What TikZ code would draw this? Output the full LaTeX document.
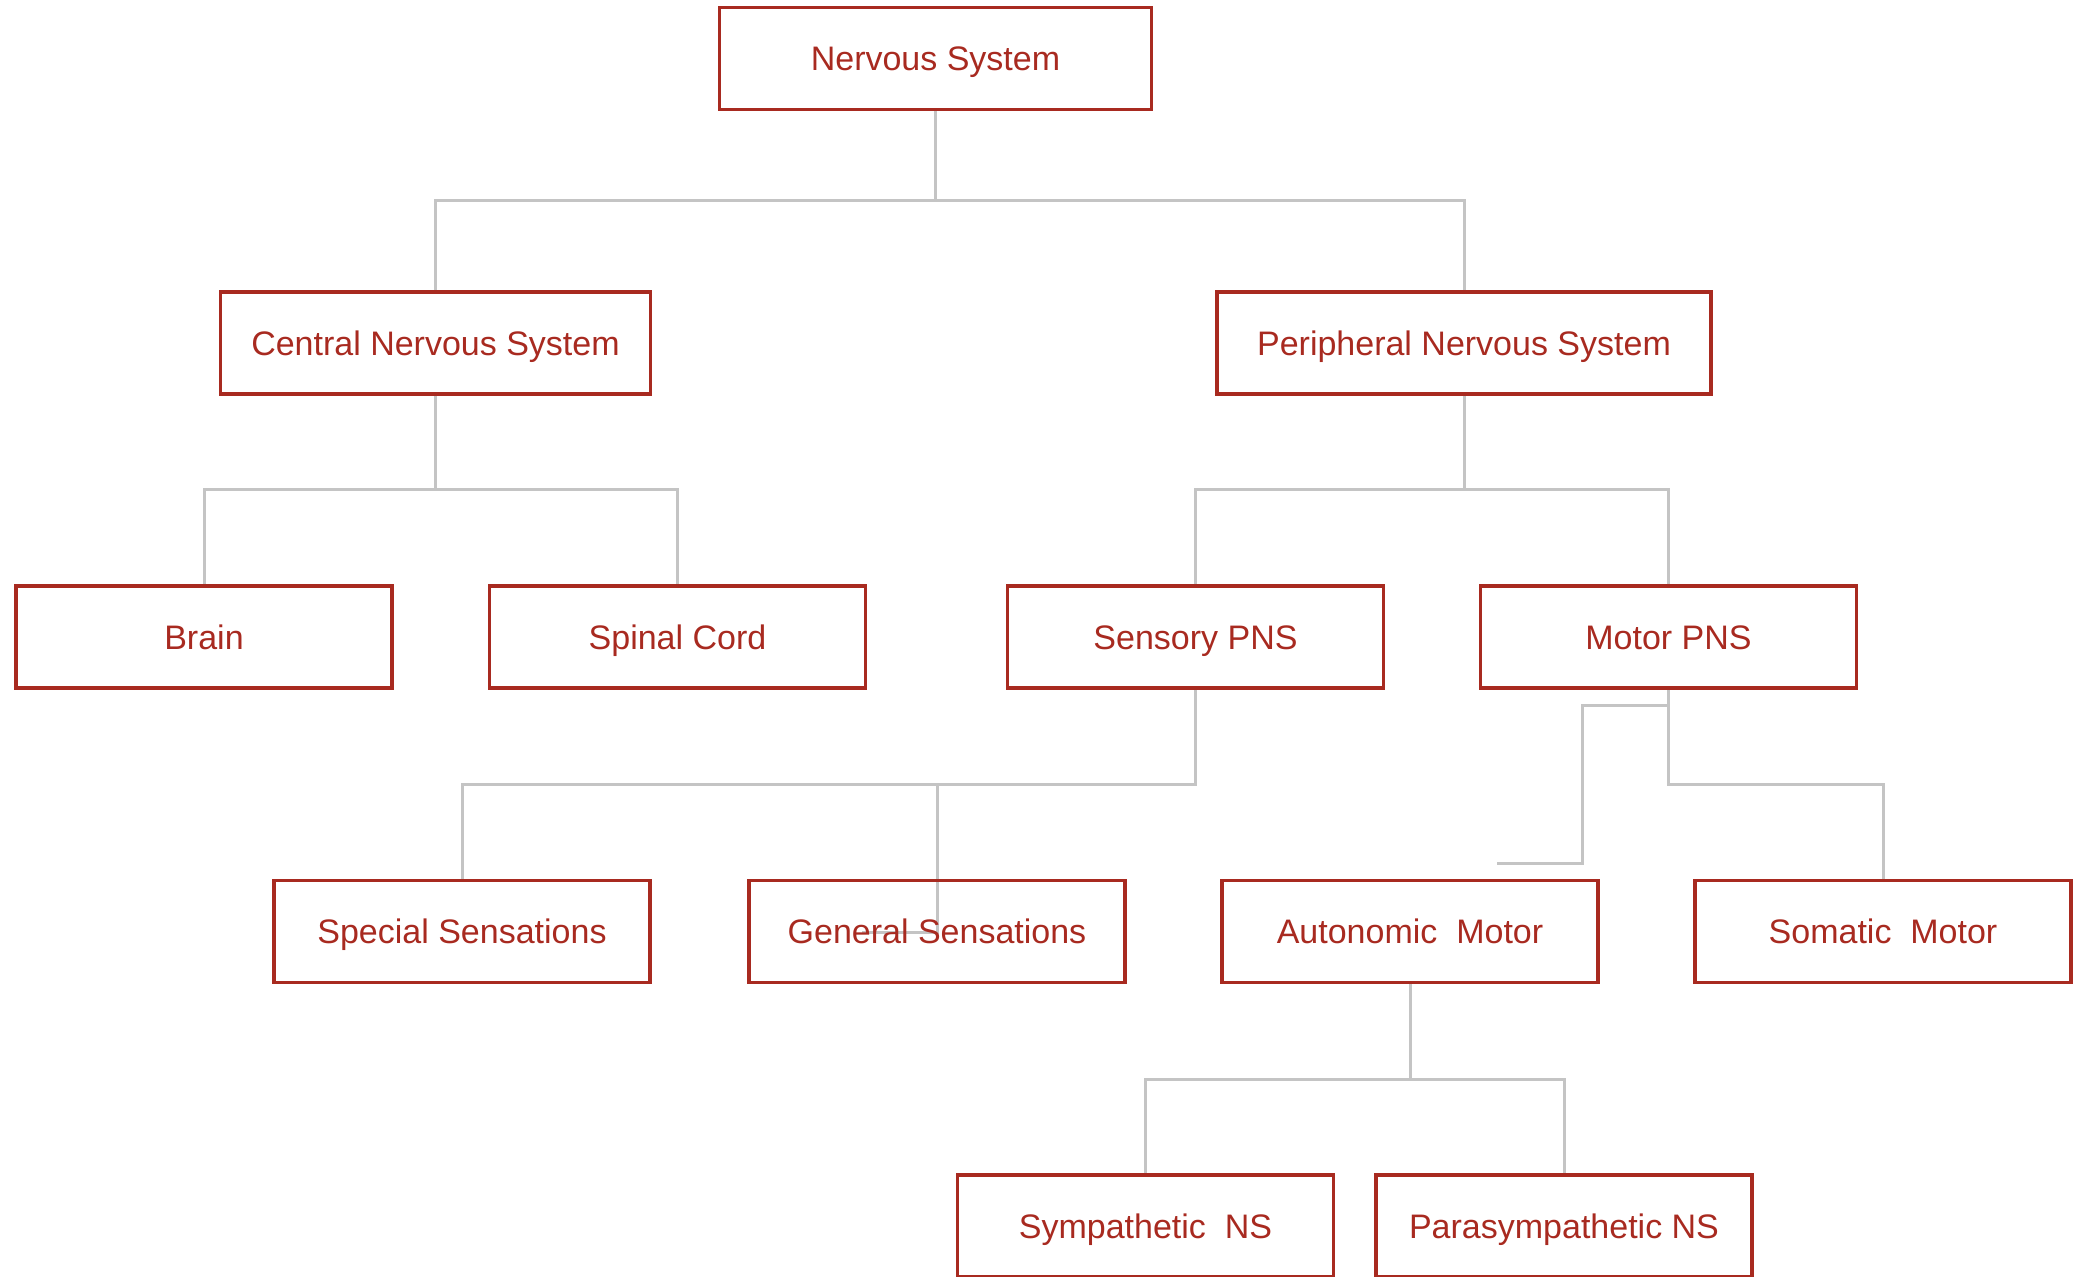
\documentclass[tikz,border=0pt]{standalone}
\usepackage{fontspec}
\setmainfont{Liberation Sans}
\usetikzlibrary{backgrounds}
\definecolor{boxred}{HTML}{A82A20}
\definecolor{linegrey}{HTML}{C4C4C4}
\begin{document}
\begin{tikzpicture}[x=0.5pt,y=-0.5pt,
  box/.style={draw=boxred,line width=1.6pt,text=boxred,inner sep=0pt,
    minimum height=51pt,minimum width=188pt,text height=12.2pt,text depth=0pt,
    font=\fontsize{17}{20}\selectfont},
  conn/.style={draw=linegrey,line width=1.5pt}]
\useasboundingbox (0,0) rectangle (2088,1277);
\clip (0,0) rectangle (2088,1277);
\node[box,minimum width=216pt] (ns) at (935.5,58.5) {Nervous System};
\node[box,minimum width=215pt] (cns) at (435.5,343) {Central Nervous System};
\node[box,minimum width=247pt] (pns) at (1464,343) {Peripheral Nervous System};
\node[box] (brain) at (204,637) {Brain};
\node[box] (spinal) at (677.5,637) {Spinal Cord};
\node[box] (sensory) at (1195.5,637) {Sensory PNS};
\node[box] (motor) at (1668.5,637) {Motor PNS};
\node[box] (special) at (462,931.5) {Special Sensations};
\node[box] (general) at (937,931.5) {General Sensations};
\node[box] (autonomic) at (1410,931.5) {Autonomic\ \ Motor};
\node[box] (somatic) at (1883,931.5) {Somatic\ \ Motor};
\node[box] (symp) at (1145.5,1226) {Sympathetic\ \ NS};
\node[box] (para) at (1564,1226) {Parasympathetic NS};
\coordinate (gstub) at (862,932);
\coordinate (mturn) at (1582,863);
\coordinate (mstub) at (1497,863);
\begin{scope}[on background layer]
\draw[conn] (ns.south) -- (ns.south |- 0,201);
\draw[conn] (cns.north) |- (ns.south |- 0,201) -| (pns.north);
\draw[conn] (cns.south) -- (cns.south |- 0,490);
\draw[conn] (brain.north) |- (cns.south |- 0,490) -| (spinal.north);
\draw[conn] (pns.south) -- (pns.south |- 0,490);
\draw[conn] (sensory.north) |- (pns.south |- 0,490) -| (motor.north);
\draw[conn] (sensory.south) -- (sensory.south |- 0,785) -| (special.north);
\draw[conn] (general.north |- 0,785) -- (general.center |- gstub) -- (gstub);
\draw[conn] (motor.south) -- (motor.south |- 0,785) -| (somatic.north);
\draw[conn] (motor.south |- 0,706) -| (mturn) -- (mstub);
\draw[conn] (autonomic.south) -- (autonomic.south |- 0,1079);
\draw[conn] (symp.north) |- (autonomic.south |- 0,1079) -| (para.north);
\end{scope}
\end{tikzpicture}
\end{document}
